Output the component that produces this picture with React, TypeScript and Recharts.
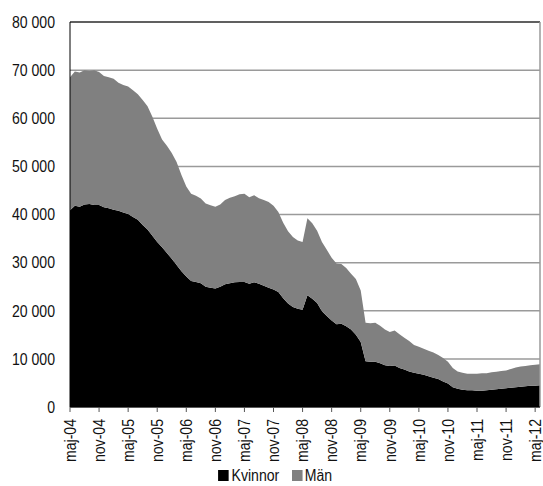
import React from "react";
import {
  AreaChart,
  Area,
  XAxis,
  YAxis,
  CartesianGrid,
  Legend,
  ReferenceLine,
} from "recharts";

const months: string[] = [
  "maj-04", "jun-04", "jul-04", "aug-04", "sep-04", "okt-04", "nov-04", "dec-04",
  "jan-05", "feb-05", "mar-05", "apr-05", "maj-05", "jun-05", "jul-05", "aug-05", "sep-05", "okt-05", "nov-05", "dec-05",
  "jan-06", "feb-06", "mar-06", "apr-06", "maj-06", "jun-06", "jul-06", "aug-06", "sep-06", "okt-06", "nov-06", "dec-06",
  "jan-07", "feb-07", "mar-07", "apr-07", "maj-07", "jun-07", "jul-07", "aug-07", "sep-07", "okt-07", "nov-07", "dec-07",
  "jan-08", "feb-08", "mar-08", "apr-08", "maj-08", "jun-08", "jul-08", "aug-08", "sep-08", "okt-08", "nov-08", "dec-08",
  "jan-09", "feb-09", "mar-09", "apr-09", "maj-09", "jun-09", "jul-09", "aug-09", "sep-09", "okt-09", "nov-09", "dec-09",
  "jan-10", "feb-10", "mar-10", "apr-10", "maj-10", "jun-10", "jul-10", "aug-10", "sep-10", "okt-10", "nov-10", "dec-10",
  "jan-11", "feb-11", "mar-11", "apr-11", "maj-11", "jun-11", "jul-11", "aug-11", "sep-11", "okt-11", "nov-11", "dec-11",
  "jan-12", "feb-12", "mar-12", "apr-12", "maj-12", "jun-12",
];

const kvinnor: number[] = [
  40900, 41800, 41600, 42100, 42200, 42000, 42000, 41500, 41300, 41000, 40800, 40400,
  40100, 39500, 38900, 37800, 36900, 35600, 34300, 33200, 32000, 30800, 29500, 28200,
  27100, 26200, 26000, 25700, 25000, 24800, 24600, 25000, 25500, 25700, 25900, 26000,
  26000, 25600, 25900, 25600, 25200, 24800, 24400, 23900, 22600, 21500, 20800, 20400,
  20200, 23200, 22500, 21600, 19900, 18900, 18000, 17200, 17300, 16800, 16100, 15000,
  13500, 9500, 9400, 9400, 9100, 8700, 8500, 8600, 8100, 7800, 7400, 7100,
  6900, 6700, 6400, 6100, 5800, 5300, 4900, 4100, 3800, 3600, 3500, 3500,
  3400, 3400, 3500, 3600, 3700, 3800, 3900, 4000, 4100, 4200, 4300, 4400,
  4400, 4500,
];

const man: number[] = [
  27600, 27900, 27900, 27900, 27600, 28000, 27600, 27300, 27200, 27200, 26600, 26500,
  26500, 26300, 26100, 26000, 25600, 24700, 23500, 22400, 22300, 22000, 21400, 20000,
  18700, 18100, 17900, 17600, 17300, 17100, 17000, 17100, 17500, 17800, 17900, 18200,
  18300, 18000, 18100, 17800, 17800, 17800, 17400, 16600, 15700, 15000, 14500, 14200,
  14100, 16000, 15700, 15000, 14400, 13800, 13000, 12600, 12400, 12100, 11600, 11600,
  10700, 8000, 8000, 8100, 7800, 7400, 7100, 7300, 7000, 6600, 6300, 5800,
  5600, 5400, 5300, 5200, 5000, 4900, 4500, 4000, 3600, 3500, 3400, 3400,
  3500, 3600, 3500, 3600, 3600, 3700, 3700, 3900, 4100, 4200, 4200, 4300,
  4400, 4400,
];

const yTicks: number[] = [0, 10000, 20000, 30000, 40000, 50000, 60000, 70000, 80000];

const seriesNames = { kvinnor: "Kvinnor", man: "Män" };

const data = months.map((m, i) => ({ month: m, kvinnor: kvinnor[i], man: man[i] }));

const FONT = "'Liberation Sans', Arial, sans-serif";
const FS = 16;
const SQ = 0.88;

const fmt = (v: number) => {
  const s = String(Math.round(v));
  return s.replace(/\B(?=(\d{3})+(?!\d))/g, " ");
};

const XTick = (props: any) => {
  const { x, y, payload } = props;
  return (
    <g transform={`translate(${x},${y + 5}) rotate(-90) scale(${SQ},1)`}>
      <text x={0} y={0} dy="0.36em" textAnchor="end" fontFamily={FONT} fontSize={FS} fill="#111">
        {payload.value}
      </text>
    </g>
  );
};

const YTick = (props: any) => {
  const { x, y, payload } = props;
  return (
    <g transform={`translate(${x},${y}) scale(${SQ},1)`}>
      <text x={0} y={0} dy="0.36em" textAnchor="end" fontFamily={FONT} fontSize={FS} fill="#111">
        {fmt(payload.value)}
      </text>
    </g>
  );
};

const LegendContent = () => (
  <div
    style={{
      height: 21,
      display: "flex",
      justifyContent: "center",
      alignItems: "center",
      fontFamily: FONT,
      fontSize: FS,
      color: "#111",
      paddingLeft: 12,
      transform: `scaleX(${SQ})`,
      transformOrigin: "center",
    }}
  >
    <span style={{ display: "inline-block", width: 12, height: 11, background: "#000", marginRight: 3 }} />
    <span style={{ marginRight: 14 }}>{seriesNames.kvinnor}</span>
    <span style={{ display: "inline-block", width: 12, height: 11, background: "#808080", marginRight: 3 }} />
    <span>{seriesNames.man}</span>
  </div>
);

export default function App() {
  return (
    <div style={{ position: "absolute", left: 0, top: 0, width: 543, height: 486, background: "#fff" }}>
      <AreaChart
        width={543}
        height={486}
        data={data}
        margin={{ top: 22, right: 3, left: 0, bottom: 0 }}
      >
        <CartesianGrid vertical={false} stroke="#9a9a9a" strokeWidth={1.5} />
        <XAxis
          dataKey="month"
          interval={5}
          height={58}
          tick={<XTick />}
          tickSize={5}
          tickMargin={2}
          tickLine={{ stroke: "#555" }}
          axisLine={{ stroke: "#000" }}
        />
        <YAxis
          width={70}
          domain={[0, 80000]}
          ticks={yTicks}
          tickLine={false}
          tickSize={6}
          tickMargin={9}
          axisLine={{ stroke: "#000" }}
          tick={<YTick />}
        />
        <Area
          type="linear"
          dataKey="kvinnor"
          name={seriesNames.kvinnor}
          stackId="a"
          stroke="none"
          fill="#000"
          fillOpacity={1}
          isAnimationActive={false}
        />
        <Area
          type="linear"
          dataKey="man"
          name={seriesNames.man}
          stackId="a"
          stroke="none"
          fill="#808080"
          fillOpacity={1}
          isAnimationActive={false}
        />
        <ReferenceLine y={80000} stroke="#444" strokeWidth={1.5} />
        <ReferenceLine x={months[months.length - 1]} stroke="#9a9a9a" strokeWidth={1.5} />
        <Legend verticalAlign="bottom" content={<LegendContent />} />
      </AreaChart>
    </div>
  );
}
